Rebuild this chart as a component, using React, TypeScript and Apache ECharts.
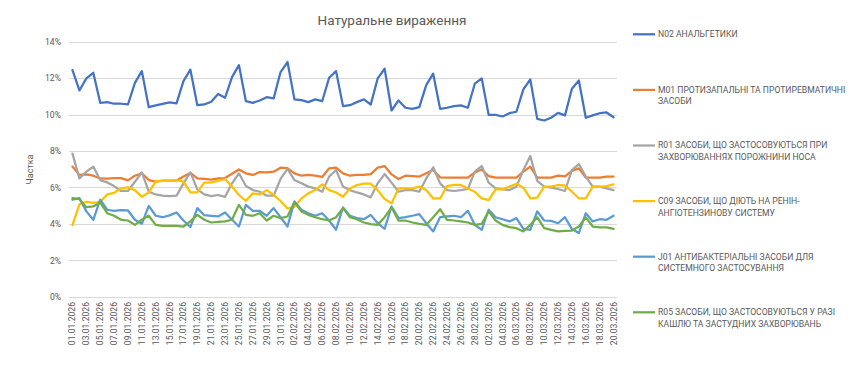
import React, { useEffect, useRef } from "react";
import * as echarts from "echarts";

const dates = [
  "01.01.2026","02.01.2026","03.01.2026","04.01.2026","05.01.2026","06.01.2026","07.01.2026","08.01.2026","09.01.2026","10.01.2026",
  "11.01.2026","12.01.2026","13.01.2026","14.01.2026","15.01.2026","16.01.2026","17.01.2026","18.01.2026","19.01.2026","20.01.2026",
  "21.01.2026","22.01.2026","23.01.2026","24.01.2026","25.01.2026","26.01.2026","27.01.2026","28.01.2026","29.01.2026","30.01.2026",
  "31.01.2026","01.02.2026","02.02.2026","03.02.2026","04.02.2026","05.02.2026","06.02.2026","07.02.2026","08.02.2026","09.02.2026",
  "10.02.2026","11.02.2026","12.02.2026","13.02.2026","14.02.2026","15.02.2026","16.02.2026","17.02.2026","18.02.2026","19.02.2026",
  "20.02.2026","21.02.2026","22.02.2026","23.02.2026","24.02.2026","25.02.2026","26.02.2026","27.02.2026","28.02.2026","01.03.2026",
  "02.03.2026","03.03.2026","04.03.2026","05.03.2026","06.03.2026","07.03.2026","08.03.2026","09.03.2026","10.03.2026","11.03.2026",
  "12.03.2026","13.03.2026","14.03.2026","15.03.2026","16.03.2026","17.03.2026","18.03.2026","19.03.2026","20.03.2026"
];

const n02 = [12.46,11.34,12.0,12.31,10.66,10.70,10.61,10.61,10.57,11.76,
  12.4,10.42,10.52,10.6,10.68,10.63,11.85,12.48,10.53,10.57,
  10.72,11.14,10.94,12.07,12.73,10.75,10.66,10.79,10.97,10.9,
  12.35,12.9,10.85,10.81,10.7,10.85,10.75,12.04,12.4,10.48,
  10.53,10.7,10.85,10.57,12.0,12.53,10.24,10.79,10.39,10.33,
  10.42,11.63,12.26,10.33,10.39,10.48,10.52,10.39,11.71,12.0,
  10.0,10.0,9.91,10.09,10.17,11.4,11.95,9.78,9.69,9.84,
  10.11,9.97,11.43,11.89,9.84,9.97,10.09,10.13,9.87];

const m01 = [7.16,6.70,6.73,6.66,6.51,6.5,6.53,6.53,6.4,6.66,
  6.79,6.42,6.33,6.39,6.39,6.4,6.62,6.81,6.51,6.48,
  6.44,6.51,6.53,6.77,7.0,6.79,6.70,6.86,6.84,6.88,
  7.1,7.08,6.79,6.66,6.7,6.66,6.59,7.06,7.1,6.79,
  6.66,6.7,6.7,6.75,7.1,7.19,6.73,6.48,6.66,6.64,
  6.61,6.79,6.97,6.57,6.55,6.55,6.55,6.55,6.84,7.0,
  6.64,6.55,6.55,6.55,6.55,6.88,7.16,6.55,6.55,6.55,
  6.66,6.62,6.92,7.06,6.55,6.55,6.55,6.61,6.61];

const r01 = [7.87,6.51,6.88,7.16,6.42,6.29,6.09,5.82,5.82,6.33,
  6.84,5.78,5.63,5.56,5.54,5.56,6.24,6.84,5.91,5.63,
  5.54,5.6,5.5,6.24,6.79,6.09,5.87,5.78,5.56,5.56,
  6.48,7.03,6.42,6.24,6.06,5.96,5.78,6.61,6.97,6.06,
  5.87,5.74,5.63,5.47,6.24,6.75,6.28,5.78,5.87,5.87,
  5.78,6.51,7.12,6.24,5.87,5.82,5.87,5.93,6.88,7.19,
  6.28,5.96,5.91,5.87,6.06,6.97,7.74,6.37,6.06,6.0,
  5.93,5.82,6.97,7.3,6.61,6.06,6.06,5.96,5.87];

const c09 = [3.95,5.08,5.23,5.17,5.23,5.63,5.72,5.96,6.02,5.87,
  5.5,5.74,6.33,6.37,6.37,6.42,6.33,5.74,5.74,6.28,
  6.29,6.37,6.48,6.06,5.6,5.28,5.69,5.63,5.87,5.6,
  5.27,4.86,4.95,5.41,5.69,5.87,6.18,5.87,5.74,5.5,
  5.96,6.15,6.22,6.22,5.87,5.38,5.14,5.96,5.96,5.96,
  6.06,5.87,5.41,5.41,6.09,6.15,6.15,5.96,5.78,5.41,
  5.32,5.91,5.91,6.06,6.22,6.0,5.41,5.45,6.06,6.06,
  6.15,6.11,5.78,5.41,5.41,6.06,6.04,6.09,6.18];

const j01 = [5.34,5.43,4.7,4.24,5.34,4.79,4.73,4.77,4.75,4.24,
  4.02,5.0,4.46,4.38,4.48,4.64,4.2,3.84,4.88,4.49,
  4.46,4.42,4.64,4.24,3.87,5.06,4.73,4.73,4.46,4.88,
  4.38,3.87,5.25,4.79,4.6,4.46,4.6,4.2,3.69,4.92,
  4.46,4.33,4.27,4.51,4.05,3.74,4.97,4.33,4.38,4.46,
  4.55,4.05,3.6,4.38,4.42,4.46,4.38,4.73,3.96,3.69,
  4.79,4.38,4.27,4.15,4.33,3.74,3.69,4.7,4.2,4.18,
  4.05,4.38,3.73,3.51,4.6,4.15,4.27,4.24,4.46];

const r05 = [5.43,5.37,4.93,4.97,5.19,4.6,4.46,4.24,4.2,3.96,
  4.24,4.46,3.96,3.91,3.91,3.91,3.87,4.15,4.51,4.24,
  4.09,4.13,4.15,4.24,5.06,4.51,4.46,4.6,4.2,4.46,
  4.33,4.42,5.21,4.7,4.51,4.38,4.27,4.2,4.38,4.88,
  4.38,4.27,4.09,4.0,3.96,4.38,4.92,4.2,4.2,4.09,
  4.02,3.96,4.38,4.82,4.24,4.2,4.15,4.09,3.96,4.02,
  4.7,4.2,3.96,3.84,3.78,3.6,3.96,4.38,3.78,3.69,
  3.6,3.63,3.65,3.87,4.37,3.87,3.82,3.82,3.74];

const legendLabels = [
  "N02 АНАЛЬГЕТИКИ",
  "M01 ПРОТИЗАПАЛЬНІ ТА ПРОТИРЕВМАТИЧНІ\nЗАСОБИ",
  "R01 ЗАСОБИ, ЩО ЗАСТОСОВУЮТЬСЯ ПРИ\nЗАХВОРЮВАННЯХ ПОРОЖНИНИ НОСА",
  "C09 ЗАСОБИ, ЩО ДІЮТЬ НА РЕНІН-\nАНГІОТЕНЗИНОВУ СИСТЕМУ",
  "J01 АНТИБАКТЕРІАЛЬНІ ЗАСОБИ ДЛЯ\nСИСТЕМНОГО ЗАСТОСУВАННЯ",
  "R05 ЗАСОБИ, ЩО ЗАСТОСОВУЮТЬСЯ У РАЗІ\nКАШЛЮ ТА ЗАСТУДНИХ ЗАХВОРЮВАНЬ",
];
const seriesData = [n02, m01, r01, c09, j01, r05];
const colors = ["#4472C4", "#ED7D31", "#A5A5A5", "#FFC000", "#5B9BD5", "#70AD47"];
const yTicks = [0, 2, 4, 6, 8, 10, 12, 14];

const FONT = "Roboto, 'Noto Sans', sans-serif";
const TXT = "#595959";

export default function App() {
  const ref = useRef<HTMLDivElement>(null);
  useEffect(() => {
    if (!ref.current) return;
    const chart = echarts.init(ref.current, null, { renderer: "svg" });
    const legendGraphics: any[] = [];
    legendLabels.forEach((label, i) => {
      const y = 34.3 + 55.6 * i;
      legendGraphics.push({
        type: "line",
        shape: { x1: 633, y1: y, x2: 655, y2: y },
        style: { stroke: colors[i], lineWidth: 2.25 },
      });
      legendGraphics.push({
        type: "text",
        x: 658,
        y: y - 6,
        style: {
          text: label,
          fontSize: 8.6,
          lineHeight: 11.7,
          fill: TXT,
          fontFamily: FONT,
          verticalAlign: "top",
          align: "left",
        },
      });
    });
    chart.setOption({
      animation: false,
      title: {
        text: "Натуральне вираження",
        left: 387,
        top: 8,
        textAlign: "center",
        textStyle: { fontSize: 13.5, fontWeight: "normal", color: TXT, fontFamily: FONT },
      },
      grid: { left: 69, right: 233, top: 42, bottom: 71, containLabel: false },
      xAxis: {
        type: "category",
        data: dates,
        boundaryGap: true,
        axisLine: { lineStyle: { color: "#D9D9D9", width: 1 } },
        axisTick: { show: false },
        axisLabel: {
          interval: 1,
          rotate: 90,
          fontSize: 8.6,
          color: TXT,
          fontFamily: FONT,
          margin: 5,
        },
      },
      yAxis: {
        type: "value",
        min: yTicks[0],
        max: yTicks[yTicks.length - 1],
        interval: 2,
        name: "Частка",
        nameLocation: "middle",
        nameRotate: 90,
        nameGap: 24,
        nameTextStyle: { fontSize: 9, color: TXT, fontFamily: FONT },
        axisLine: { show: false },
        axisTick: { show: false },
        splitLine: { lineStyle: { color: "#D9D9D9", width: 1 } },
        axisLabel: {
          formatter: (v: number) => `${v}%`,
          fontSize: 8.6,
          color: TXT,
          fontFamily: FONT,
          margin: 8,
        },
      },
      series: seriesData.map((d, i) => ({
        name: legendLabels[i].replace("\n", " "),
        type: "line",
        data: d,
        showSymbol: false,
        symbol: "none",
        lineStyle: { color: colors[i], width: 2.25, cap: "round", join: "round" },
        itemStyle: { color: colors[i] },
      })),
      graphic: legendGraphics,
    });
    return () => chart.dispose();
  }, []);
  return (
    <div
      ref={ref}
      style={{ position: "fixed", left: 0, top: 0, width: 850, height: 368, background: "#fff" }}
    />
  );
}
